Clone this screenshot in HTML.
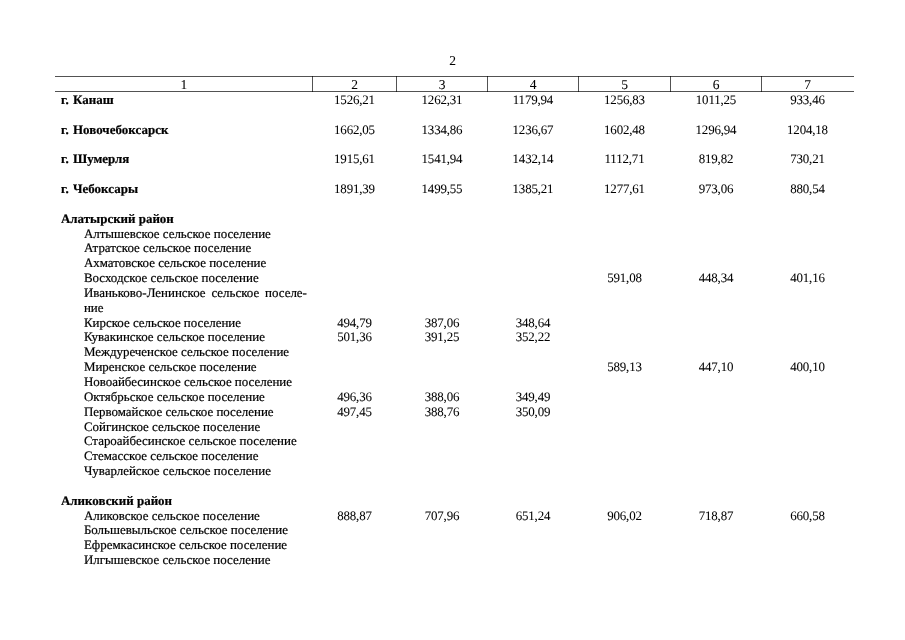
<!DOCTYPE html>
<html lang="ru"><head><meta charset="utf-8"><title>2</title>
<style>
html,body{margin:0;padding:0;background:#fff;}
body{width:905px;height:640px;position:relative;overflow:hidden;font-family:"Liberation Serif","DejaVu Serif",serif;font-size:12.95px;color:#000;text-rendering:geometricPrecision;-webkit-text-stroke:0.2px #000;}
.t{position:absolute;white-space:pre;line-height:20px;height:20px;}
.c{position:absolute;white-space:pre;line-height:20px;height:20px;width:80px;margin-left:-40px;text-align:center;-webkit-text-stroke:0.05px #000;letter-spacing:-0.17px;}
.b{font-weight:bold;letter-spacing:0.04px;word-spacing:0.9px;}
.d{letter-spacing:0;word-spacing:0;}
.g{font-size:13.5px;}
.h{position:absolute;height:1px;background:rgba(0,0,0,.68);}
.v{position:absolute;width:1px;background:rgba(0,0,0,.68);}
</style></head><body>
<div class="c g" style="left:452.5px;top:51px">2</div>
<div class="h" style="left:55px;top:76px;width:798.5px"></div>
<div class="h" style="left:55px;top:91px;width:798.5px"></div>
<div class="v" style="left:312px;top:76px;height:16px"></div>
<div class="v" style="left:396px;top:76px;height:16px"></div>
<div class="v" style="left:487px;top:76px;height:16px"></div>
<div class="v" style="left:578px;top:76px;height:16px"></div>
<div class="v" style="left:670px;top:76px;height:16px"></div>
<div class="v" style="left:761px;top:76px;height:16px"></div>
<div class="c g" style="left:183.75px;top:75px">1</div>
<div class="c g" style="left:354.5px;top:75px">2</div>
<div class="c g" style="left:442.0px;top:75px">3</div>
<div class="c g" style="left:533.0px;top:75px">4</div>
<div class="c g" style="left:624.5px;top:75px">5</div>
<div class="c g" style="left:716.0px;top:75px">6</div>
<div class="c g" style="left:807.5px;top:75px">7</div>
<div class="t b" style="left:61.0px;top:90px">г. Канаш</div>
<div class="c" style="left:354.5px;top:90px">1526,21</div>
<div class="c" style="left:442.0px;top:90px">1262,31</div>
<div class="c" style="left:533.0px;top:90px">1179,94</div>
<div class="c" style="left:624.5px;top:90px">1256,83</div>
<div class="c" style="left:716.0px;top:90px">1011,25</div>
<div class="c" style="left:807.5px;top:90px">933,46</div>
<div class="t b" style="left:61.0px;top:120px">г. Новочебоксарск</div>
<div class="c" style="left:354.5px;top:120px">1662,05</div>
<div class="c" style="left:442.0px;top:120px">1334,86</div>
<div class="c" style="left:533.0px;top:120px">1236,67</div>
<div class="c" style="left:624.5px;top:120px">1602,48</div>
<div class="c" style="left:716.0px;top:120px">1296,94</div>
<div class="c" style="left:807.5px;top:120px">1204,18</div>
<div class="t b" style="left:61.0px;top:149px">г. Шумерля</div>
<div class="c" style="left:354.5px;top:149px">1915,61</div>
<div class="c" style="left:442.0px;top:149px">1541,94</div>
<div class="c" style="left:533.0px;top:149px">1432,14</div>
<div class="c" style="left:624.5px;top:149px">1112,71</div>
<div class="c" style="left:716.0px;top:149px">819,82</div>
<div class="c" style="left:807.5px;top:149px">730,21</div>
<div class="t b" style="left:61.0px;top:179px">г. Чебоксары</div>
<div class="c" style="left:354.5px;top:179px">1891,39</div>
<div class="c" style="left:442.0px;top:179px">1499,55</div>
<div class="c" style="left:533.0px;top:179px">1385,21</div>
<div class="c" style="left:624.5px;top:179px">1277,61</div>
<div class="c" style="left:716.0px;top:179px">973,06</div>
<div class="c" style="left:807.5px;top:179px">880,54</div>
<div class="t b d" style="left:61.0px;top:209px">Алатырский район</div>
<div class="t" style="left:83.9px;top:224px">Алтышевское сельское поселение</div>
<div class="t" style="left:83.9px;top:238px">Атратское сельское поселение</div>
<div class="t" style="left:83.9px;top:253px">Ахматовское сельское поселение</div>
<div class="t" style="left:83.9px;top:268px">Восходское сельское поселение</div>
<div class="c" style="left:624.5px;top:268px">591,08</div>
<div class="c" style="left:716.0px;top:268px">448,34</div>
<div class="c" style="left:807.5px;top:268px">401,16</div>
<div class="t" style="left:83.9px;top:283px"><span style="word-spacing:-0.3px">Иваньково-Ленинское  сельское  поселе-</span></div>
<div class="t" style="left:83.9px;top:298px">ние</div>
<div class="t" style="left:83.9px;top:313px">Кирское сельское поселение</div>
<div class="c" style="left:354.5px;top:313px">494,79</div>
<div class="c" style="left:442.0px;top:313px">387,06</div>
<div class="c" style="left:533.0px;top:313px">348,64</div>
<div class="t" style="left:83.9px;top:327px">Кувакинское сельское поселение</div>
<div class="c" style="left:354.5px;top:327px">501,36</div>
<div class="c" style="left:442.0px;top:327px">391,25</div>
<div class="c" style="left:533.0px;top:327px">352,22</div>
<div class="t" style="left:83.9px;top:342px">Междуреченское сельское поселение</div>
<div class="t" style="left:83.9px;top:357px">Миренское сельское поселение</div>
<div class="c" style="left:624.5px;top:357px">589,13</div>
<div class="c" style="left:716.0px;top:357px">447,10</div>
<div class="c" style="left:807.5px;top:357px">400,10</div>
<div class="t" style="left:83.9px;top:372px">Новоайбесинское сельское поселение</div>
<div class="t" style="left:83.9px;top:387px">Октябрьское сельское поселение</div>
<div class="c" style="left:354.5px;top:387px">496,36</div>
<div class="c" style="left:442.0px;top:387px">388,06</div>
<div class="c" style="left:533.0px;top:387px">349,49</div>
<div class="t" style="left:83.9px;top:402px">Первомайское сельское поселение</div>
<div class="c" style="left:354.5px;top:402px">497,45</div>
<div class="c" style="left:442.0px;top:402px">388,76</div>
<div class="c" style="left:533.0px;top:402px">350,09</div>
<div class="t" style="left:83.9px;top:417px">Сойгинское сельское поселение</div>
<div class="t" style="left:83.9px;top:431px">Староайбесинское сельское поселение</div>
<div class="t" style="left:83.9px;top:446px">Стемасское сельское поселение</div>
<div class="t" style="left:83.9px;top:461px">Чуварлейское сельское поселение</div>
<div class="t b d" style="left:61.0px;top:491px">Аликовский район</div>
<div class="t" style="left:83.9px;top:506px">Аликовское сельское поселение</div>
<div class="c" style="left:354.5px;top:506px">888,87</div>
<div class="c" style="left:442.0px;top:506px">707,96</div>
<div class="c" style="left:533.0px;top:506px">651,24</div>
<div class="c" style="left:624.5px;top:506px">906,02</div>
<div class="c" style="left:716.0px;top:506px">718,87</div>
<div class="c" style="left:807.5px;top:506px">660,58</div>
<div class="t" style="left:83.9px;top:520px">Большевыльское сельское поселение</div>
<div class="t" style="left:83.9px;top:535px">Ефремкасинское сельское поселение</div>
<div class="t" style="left:83.9px;top:550px">Илгышевское сельское поселение</div>
</body></html>
